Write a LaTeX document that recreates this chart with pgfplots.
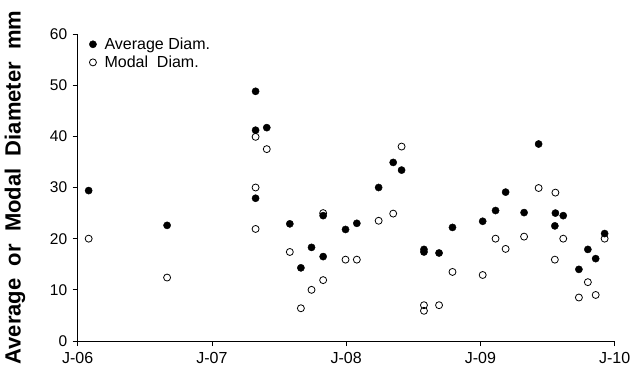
\documentclass[border=0pt]{standalone}
\usepackage{pgfplots}
\pgfplotsset{compat=1.18}
\usepackage{fontspec}
\setmainfont{Liberation Sans}
\begin{document}
\begin{tikzpicture}
\path[use as bounding box] (-77.7pt,-29pt) rectangle (564.3pt,341pt);
\begin{axis}[
  at={(0pt,0pt)}, anchor=south west,
  scale only axis, width=537pt, height=307pt,
  xmin=0, xmax=48, ymin=0, ymax=60,
  axis lines=left,
  axis line style={-, line width=0.9pt, black},
  every tick/.style={black, line width=0.9pt},
  tick align=outside,
  major tick length=5pt,
  xtick={0,12,24,36,48},
  xticklabels={J-06,J-07,J-08,J-09,J-10},
  ytick={0,10,20,30,40,50,60},
  /pgf/number format/assume math mode=true,
  xticklabel style={font=\fontsize{16}{18}\selectfont, yshift=-3pt},
  yticklabel style={font=\fontsize{15.5}{18}\selectfont, xshift=-2pt},
  ylabel={Average~~or~~Modal~~Diameter~~mm},
  ylabel style={font=\bfseries\fontsize{22}{26}\selectfont, at={(axis description cs:-0.1168,0.5)}, anchor=center},
  clip=false,
  reverse legend,
  legend image code/.code={\draw[#1] plot coordinates {(0pt,0pt)};},
  legend style={at={(axis description cs:0.0213,0.995)}, anchor=north west, draw=none, fill=none,
    font=\fontsize{16}{18}\selectfont, inner sep=0pt, row sep=1pt, column sep=6pt,
    nodes={inner sep=2pt}},
  legend cell align=left,
]
\addplot[only marks, mark=o, mark size=3.5pt, mark options={line width=0.8pt, black}] coordinates {
(0.98,20.0) (7.99,12.4) (15.9,39.9) (15.9,30.0) (15.9,21.9) (16.9,37.5)
(18.96,17.4) (19.95,6.4) (20.9,10.0) (21.94,11.9) (21.94,25.0) (23.94,15.9)
(24.95,15.9) (26.9,23.5) (28.2,24.9) (28.95,38.0) (30.95,7.0) (30.95,5.9)
(32.3,7.0) (33.5,13.5) (36.2,12.9) (37.35,20.0) (38.25,18.0) (39.9,20.4)
(41.2,29.9) (42.7,29.0) (42.65,15.9) (43.4,20.0) (44.8,8.5) (45.6,11.5)
(46.3,9.0) (47.1,20.0)
};
\addlegendentry{Modal~~Diam.}
\addplot[only marks, mark=*, mark size=3.6pt, mark options={black, fill=black}] coordinates {
(0.98,29.4) (7.99,22.6) (15.9,48.8) (15.9,41.2) (15.9,27.9) (16.9,41.7)
(18.96,22.9) (19.95,14.3) (20.9,18.3) (21.94,16.5) (21.94,24.5) (23.94,21.8)
(24.95,23.0) (26.9,30.0) (28.2,34.9) (28.95,33.4) (30.95,17.9) (30.95,17.4)
(32.3,17.2) (33.5,22.2) (36.2,23.4) (37.35,25.5) (38.25,29.1) (39.9,25.1)
(41.2,38.5) (42.7,25.0) (42.65,22.5) (43.4,24.5) (44.8,14.0) (45.6,17.9)
(46.3,16.1) (47.1,21.0)
};
\addlegendentry{Average Diam.}
\end{axis}
\end{tikzpicture}
\end{document}
